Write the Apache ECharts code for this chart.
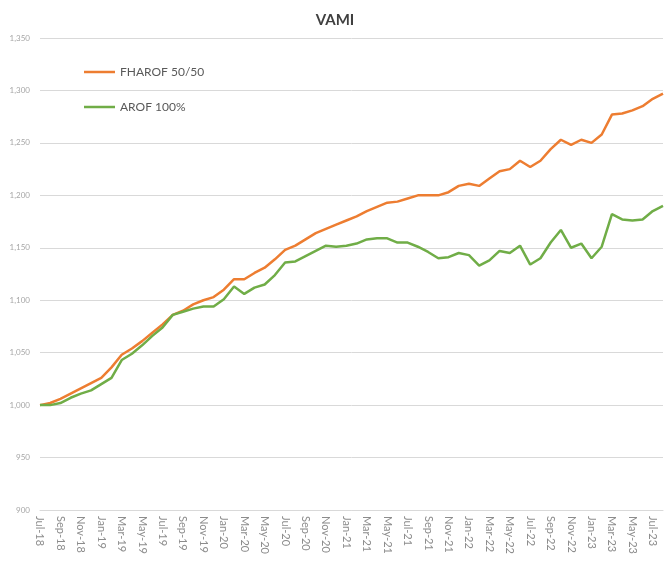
<!DOCTYPE html>
<html>
<head>
<meta charset="utf-8">
<script src="https://cdn.jsdelivr.net/npm/echarts@6/dist/echarts.min.js"></script>
<style>
  html, body { margin: 0; padding: 0; background: #fff; }
  #chart { width: 670px; height: 563px; }
</style>
</head>
<body>
<div id="chart"></div>
<script>
// monthly, Jul-18 .. Aug-23
var months = [];
var monNames = ['Jan','Feb','Mar','Apr','May','Jun','Jul','Aug','Sep','Oct','Nov','Dec'];
var startYear = 18, startMonth = 6, count = 62;
for (var i = 0; i < count; i++) {
  var m = (startMonth + i) % 12;
  var y = startYear + Math.floor((startMonth + i) / 12);
  months.push(monNames[m] + '-' + y);
}

var fharof = [1000, 1002, 1006, 1011, 1016, 1021, 1026, 1036, 1048, 1054,
  1061, 1069, 1077, 1086, 1090, 1096, 1100, 1103, 1110, 1120,
  1120, 1126, 1131, 1139, 1148, 1152, 1158, 1164, 1168, 1172,
  1176, 1180, 1185, 1189, 1193, 1194, 1197, 1200, 1200, 1200,
  1203, 1209, 1211, 1209, 1216, 1223, 1225, 1233, 1227, 1233,
  1244, 1253, 1248, 1253, 1250, 1258, 1277, 1278, 1281, 1285,
  1292, 1297];

var arof = [1000, 1000, 1002, 1007, 1011, 1014, 1020, 1026, 1043, 1049,
  1057, 1066, 1074, 1086, 1089, 1092, 1094, 1094, 1101, 1113,
  1106, 1112, 1115, 1124, 1136, 1137, 1142, 1147, 1152, 1151,
  1152, 1154, 1158, 1159, 1159, 1155, 1155, 1151, 1146, 1140,
  1141, 1145, 1143, 1133, 1138, 1147, 1145, 1152, 1134, 1140,
  1155, 1167, 1150, 1154, 1140, 1151, 1182, 1177, 1176, 1177,
  1185, 1190];

var chart = echarts.init(document.getElementById('chart'));
var font = 'Lato, "Open Sans", sans-serif';

var options = {
  animation: false,
  textStyle: { fontFamily: font },
  title: {
    text: 'VAMI',
    left: 'center',
    top: 8,
    textStyle: { fontSize: 15, fontWeight: 'bold', color: '#404040', fontFamily: font }
  },
  legend: {
    orient: 'vertical',
    left: 79,
    top: 61,
    itemGap: 23,
    icon: 'rect',
    itemWidth: 31,
    itemHeight: 2.5,
    textStyle: { fontSize: 12, color: '#595959', fontFamily: font },
    data: ['FHAROF 50/50', 'AROF 100%']
  },
  grid: { left: 40, right: 7, top: 38, bottom: 53 },
  xAxis: {
    type: 'category',
    boundaryGap: false,
    data: months,
    axisLine: { lineStyle: { color: '#d9d9d9' } },
    axisTick: { show: false },
    axisLabel: {
      interval: 1,
      rotate: -90,
      color: '#8c8c8c',
      fontSize: 11,
      margin: 6,
      fontFamily: font
    }
  },
  yAxis: {
    type: 'value',
    min: 900,
    max: 1350,
    interval: 50,
    axisLine: { show: false },
    axisTick: { show: false },
    splitLine: { lineStyle: { color: '#d9d9d9', width: 1 } },
    axisLabel: {
      color: '#a6a6a6',
      fontSize: 8,
      margin: 10,
      fontFamily: font,
      formatter: function (v) { return v.toLocaleString('en-US'); }
    }
  },
  series: [
    {
      name: 'FHAROF 50/50',
      type: 'line',
      data: fharof,
      symbol: 'none',
      lineStyle: { color: '#ED7D31', width: 2.5 },
      itemStyle: { color: '#ED7D31' }
    },
    {
      name: 'AROF 100%',
      type: 'line',
      data: arof,
      symbol: 'none',
      lineStyle: { color: '#70AD47', width: 2.5 },
      itemStyle: { color: '#70AD47' }
    }
  ]
};

chart.setOption(options);
</script>
</body>
</html>
